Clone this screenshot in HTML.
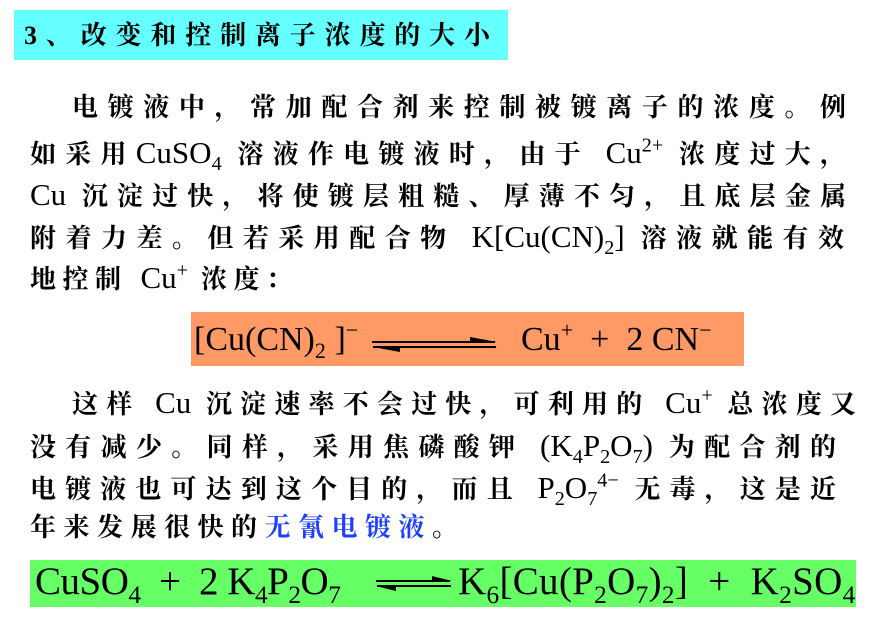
<!DOCTYPE html>
<html><head><meta charset="utf-8"><style>
body{margin:0;width:876px;height:618px;background:#fff;position:relative;overflow:hidden;font-family:"Liberation Serif","Noto Serif CJK SC",serif;color:#000}
.ab{position:absolute}
.ln{position:absolute;height:42px;line-height:42px;font-size:26px;font-weight:bold;white-space:nowrap;text-align:justify;text-align-last:justify}
.ln .l{font-family:"Liberation Serif",serif;font-weight:normal;font-size:31px}
sub,sup{font-size:65%;line-height:0}
.eq{position:absolute;font-family:"Liberation Serif",serif;font-size:34px;white-space:nowrap;line-height:1}
</style></head><body>
<div class="ab" style="left:14px;top:10px;width:494px;height:50px;background:#66ffff"></div>
<div class="ln" style="left:24px;top:15px;width:466px;font-size:26px">3、改变和控制离子浓度的大小</div>

<div class="ln" style="left:72px;top:87px;width:774px">电镀液中，常加配合剂来控制被镀离子的浓度。例</div>
<div class="ln" style="left:30px;top:132px;width:816px">如采用<span class="l">CuSO<sub>4</sub></span> 溶液作电镀液时，由于 <span class="l">Cu<sup>2+</sup></span> 浓度过大，</div>
<div class="ln" style="left:30px;top:174px;width:816px"><span class="l">Cu</span> 沉淀过快，将使镀层粗糙、厚薄不匀，且底层金属</div>
<div class="ln" style="left:30px;top:216px;width:814px">附着力差。但若采用配合物 <span class="l">K[Cu(CN)<sub>2</sub>]</span> 溶液就能有效</div>
<div class="ln" style="left:30px;top:257px;width:262px">地控制 <span class="l">Cu<sup>+</sup></span> 浓度：</div>

<div class="ab" style="left:191px;top:312px;width:553px;height:54px;background:#ff9966"></div>
<div class="eq" style="left:194px;top:323px">[Cu(CN)<sub>2</sub> ]<sup>&minus;</sup></div>
<svg class="ab" style="left:370px;top:335px" width="130" height="20"><line x1="2" y1="7" x2="125" y2="7" stroke="#000" stroke-width="2"/><polygon points="100,2 127,7 100,7" fill="#000"/><line x1="3" y1="12" x2="126" y2="12" stroke="#000" stroke-width="2"/><polygon points="30,17 3,12 30,12" fill="#000"/></svg>
<div class="eq" style="left:521px;top:323px">Cu<sup>+</sup> &nbsp;+ &nbsp;2 CN<sup>&minus;</sup></div>

<div class="ln" style="left:72px;top:382px;width:784px">这样 <span class="l">Cu</span> 沉淀速率不会过快，可利用的 <span class="l">Cu<sup>+</sup></span> 总浓度又</div>
<div class="ln" style="left:30px;top:425px;width:806px">没有减少。同样，采用焦磷酸钾 <span class="l">(K<sub>4</sub>P<sub>2</sub>O<sub>7</sub>)</span> 为配合剂的</div>
<div class="ln" style="left:30px;top:467px;width:806px">电镀液也可达到这个目的，而且 <span class="l">P<sub>2</sub>O<sub>7</sub><sup>4&minus;</sup></span> 无毒，这是近</div>
<div class="ln" style="left:30px;top:507px;width:428px">年来发展很快的<span style="color:#1f3fff">无氰电镀液</span>。</div>

<div class="ab" style="left:30px;top:560px;width:826px;height:47px;background:#66ff66"></div>
<div class="eq" style="left:35px;top:562px;font-size:39px;letter-spacing:-0.5px">CuSO<sub>4</sub> &nbsp;+ &nbsp;2 K<sub>4</sub>P<sub>2</sub>O<sub>7</sub></div>
<svg class="ab" style="left:374px;top:574px" width="80" height="20"><line x1="2" y1="7" x2="76" y2="7" stroke="#000" stroke-width="2"/><polygon points="58,2 78,7 58,7" fill="#000"/><line x1="3" y1="12" x2="77" y2="12" stroke="#000" stroke-width="2"/><polygon points="22,17 2,12 22,12" fill="#000"/></svg>
<div class="eq" style="left:458px;top:562px;font-size:39px;letter-spacing:0.3px">K<sub>6</sub>[Cu(P<sub>2</sub>O<sub>7</sub>)<sub>2</sub>] &nbsp;+ &nbsp;K<sub>2</sub>SO<sub>4</sub></div>
</body></html>
